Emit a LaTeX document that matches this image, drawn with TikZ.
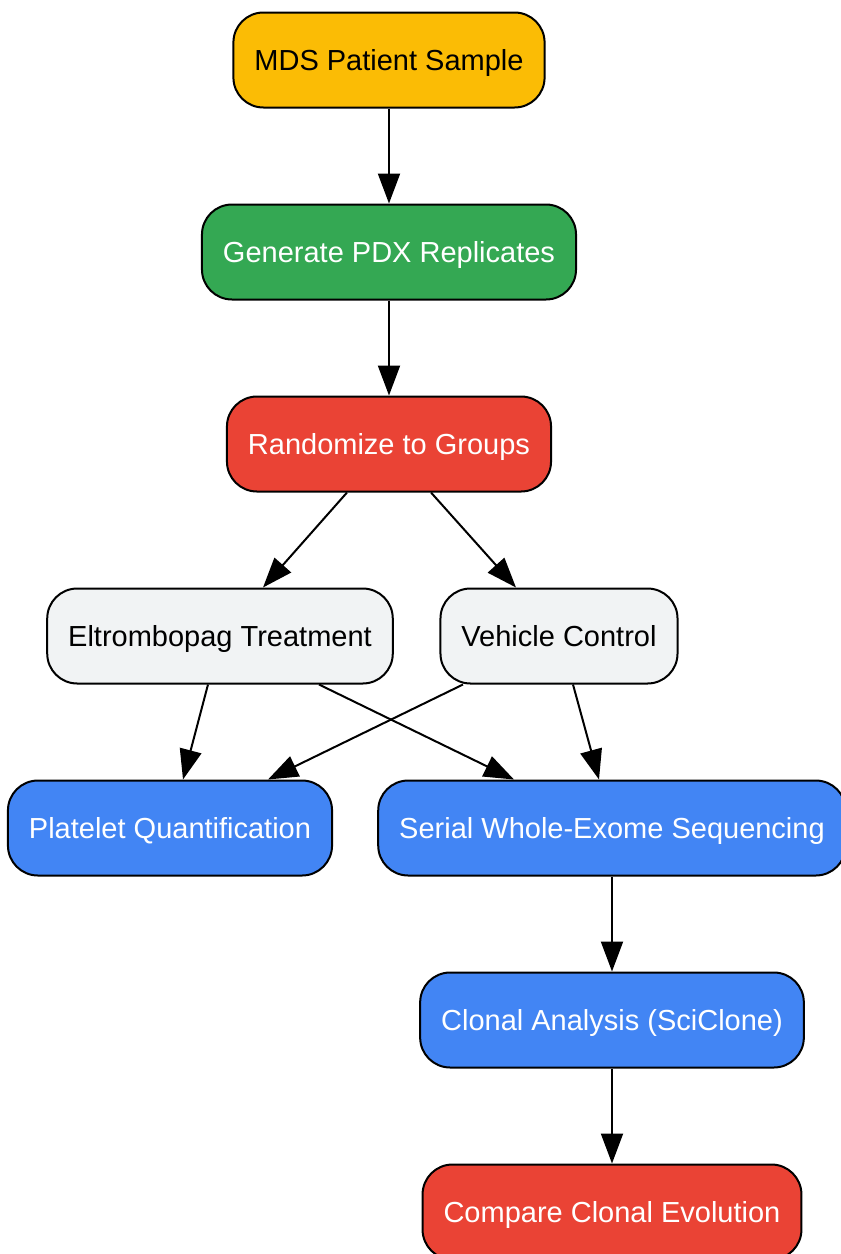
\documentclass[tikz,border=0pt]{standalone}
\usepackage{fontspec}
\setmainfont{Liberation Sans}
\usepackage{xcolor}
\usetikzlibrary{arrows.meta}
\definecolor{gyellow}{HTML}{FBBC05}
\definecolor{ggreen}{HTML}{34A853}
\definecolor{gred}{HTML}{EA4335}
\definecolor{gblue}{HTML}{4285F4}
\definecolor{ggray}{HTML}{F1F3F4}
\begin{document}
\begin{tikzpicture}[x=1pt,y=-1pt,
    box/.style={draw=black,line width=2pt,rounded corners=30pt,minimum height=95pt,
      inner xsep=21pt,inner ysep=0pt,text height=22pt,text depth=2pt,
      font=\fontsize{29}{34}\selectfont},
    yellowbox/.style={box,fill=gyellow,text=black},
    greenbox/.style={box,fill=ggreen,text=white},
    redbox/.style={box,fill=gred,text=white},
    graybox/.style={box,fill=ggray,text=black},
    bluebox/.style={box,fill=gblue,text=white},
    flow/.style={line width=2pt,-{Triangle[length=30pt,width=22pt]}}]
    \useasboundingbox (0,0) rectangle (841,1254);
    % nodes
    \node[yellowbox] (sample) at (389,60) {MDS Patient Sample};
    \node[greenbox] (pdx) at (389,252) {Generate PDX Replicates};
    \node[redbox] (rand) at (389,444) {Randomize to Groups};
    \node[graybox] (eltro) at (220,636) {Eltrombopag Treatment};
    \node[graybox] (vehicle) at (559,636) {Vehicle Control};
    \node[bluebox] (platelet) at (170,828) {Platelet Quantification};
    \node[bluebox] (wes) at (612,828) {Serial Whole-Exome Sequencing};
    \node[bluebox] (clonal) at (612,1020) {Clonal Analysis (SciClone)};
    \node[redbox] (compare) at (612,1212) {Compare Clonal Evolution};
    % edges
    \draw[flow] (sample) -- (pdx);
    \draw[flow] (pdx) -- (rand);
    \draw[flow] ([xshift=-42pt]rand.south) -- ([xshift=43pt]eltro.north);
    \draw[flow] ([xshift=42pt]rand.south) -- ([xshift=-43pt]vehicle.north);
    \draw[flow] ([xshift=-12pt]eltro.south) -- ([xshift=13pt]platelet.north);
    \draw[flow] ([xshift=99pt]eltro.south) -- ([xshift=-98pt]wes.north);
    \draw[flow] ([xshift=-96pt]vehicle.south) -- ([xshift=98pt]platelet.north);
    \draw[flow] ([xshift=14pt]vehicle.south) -- ([xshift=-13pt]wes.north);
    \draw[flow] (wes) -- (clonal);
    \draw[flow] (clonal) -- (compare);
\end{tikzpicture}
\end{document}
